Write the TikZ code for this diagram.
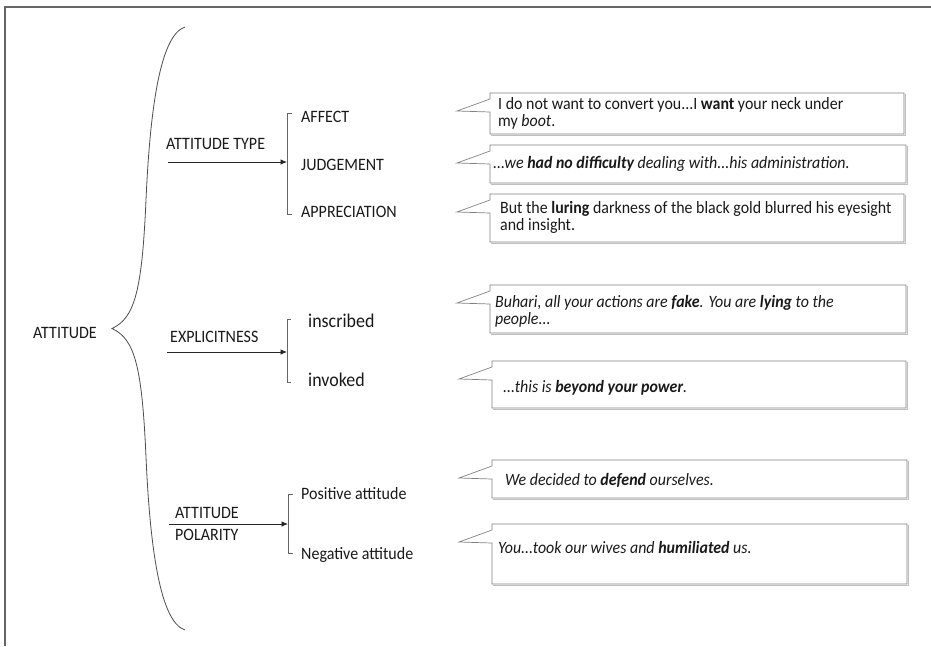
\documentclass[tikz,border=0pt]{standalone}
\usepackage{fontspec}
\setmainfont[FakeStretch=0.92]{Carlito}
\usetikzlibrary{arrows.meta}
\newcommand\qlines[2]{\vtop{\baselineskip=17pt\hbox{#1}\hbox{#2}}}
\newcommand\calloutbox[4]{%
  \draw[calloutline] (#1,#2) -- (#3,#2) -- (#3,#4) -- (#1,#4) -- (#1,#2+19)
    -- (#1-33,#2+18) -- (#1,#2+6) -- cycle;
  \draw[shadowline] (#1+1,#4+1) -- (#3+1,#4+1) -- (#3+1,#2+1);}
\begin{document}
\begin{tikzpicture}[x=1pt,y=-1pt,
  lbl/.style={anchor=base west, inner sep=0pt, font=\fontsize{17.4}{19}\selectfont, text=black!90},
  big/.style={anchor=base west, inner sep=0pt, font=\fontsize{19.5}{21}\selectfont, text=black!90},
  quote/.style={anchor=base west, inner sep=0pt, font=\fontsize{17.3}{17}\selectfont, text=black!90},
  conn/.style={draw=black!85, line width=0.8pt, -{Latex[length=6.5pt,width=5.5pt]}},
  brk/.style={draw=black!60, line width=0.8pt},
  calloutline/.style={draw=black!50, line width=0.7pt},
  shadowline/.style={draw=black!25, line width=0.8pt},
  frameline/.style={draw=black!60, line width=1.6pt},
  brace/.style={draw=black!70, line width=0.8pt}]
\useasboundingbox (0,0) rectangle (931,646);

% outer frame
\draw[frameline] (931,7) -- (5,7) -- (5,646);

% big brace
\draw[brace] (185,27) .. controls (160,35) and (150,110) .. (146,200)
  .. controls (142,290) and (135,318) .. (112,328.5)
  .. controls (135,339) and (142,367) .. (146,457)
  .. controls (150,547) and (160,622) .. (185,630);

\node[lbl] (attitude) at (33,338) {ATTITUDE};

% ---- attitude type
\node[lbl] (type) at (166,149) {ATTITUDE TYPE};
\coordinate (s1) at (168,162);
\coordinate (b1) at (287,162);
\draw[conn] (s1) -- (b1);
\draw[brk] (292,113) -- (287,113) -- (287,214) -- (292,214);
\node[lbl] (affect) at (301,122) {AFFECT};
\node[lbl] (judge) at (301,170) {JUDGEMENT};
\node[lbl] (apprec) at (301,217) {APPRECIATION};

% ---- explicitness
\node[lbl] (expl) at (170,342) {EXPLICITNESS};
\coordinate (s2) at (167,352);
\coordinate (b2) at (287,352);
\draw[conn] (s2) -- (b2);
\draw[brk] (291,319) -- (287,319) -- (287,382) -- (291,382);
\node[big] (inscr) at (308,327) {inscribed};
\node[big] (invok) at (308,386) {invoked};

% ---- polarity
\node[lbl] (pol1) at (175,518) {ATTITUDE};
\node[lbl] (pol2) at (175,540) {POLARITY};
\coordinate (s3) at (169,524);
\coordinate (b3) at (288,524);
\draw[conn] (s3) -- (b3);
\draw[brk] (293,494) -- (288,494) -- (288,553) -- (293,553);
\node[lbl] (pos) at (301,499) {Positive attitude};
\node[lbl] (neg) at (301,559) {Negative attitude};

% ---- callouts
\calloutbox{490}{93}{904}{134}
\node[quote] (q1) at (498,109) {\qlines{I do not want to convert you...I \textbf{want} your neck under}{my \textit{boot}.}};

\calloutbox{490}{145}{906}{183}
\node[quote] (q2) at (493,168) {\textit{...we \textbf{had no difficulty} dealing with...his administration.}};

\calloutbox{490}{194}{904}{242}
\node[quote] (q3) at (500,213) {\qlines{But the \textbf{luring} darkness of the black gold blurred his eyesight}{and insight.}};

\calloutbox{490}{285}{906}{333}
\node[quote] (q4) at (495,307) {\qlines{\textit{Buhari, all your actions are \textbf{fake}. You are \textbf{lying} to the}}{\textit{people...}}};

\calloutbox{492}{361}{906}{408}
\node[quote] (q5) at (503,392) {\textit{...this is \textbf{beyond your power}.}};

\calloutbox{492}{460}{907}{498}
\node[quote] (q6) at (505,485) {\textit{We decided to \textbf{defend} ourselves.}};

\calloutbox{492}{524}{907}{584}
\node[quote] (q7) at (498,553) {\textit{You...took our wives and \textbf{humiliated} us.}};
\end{tikzpicture}
\end{document}
